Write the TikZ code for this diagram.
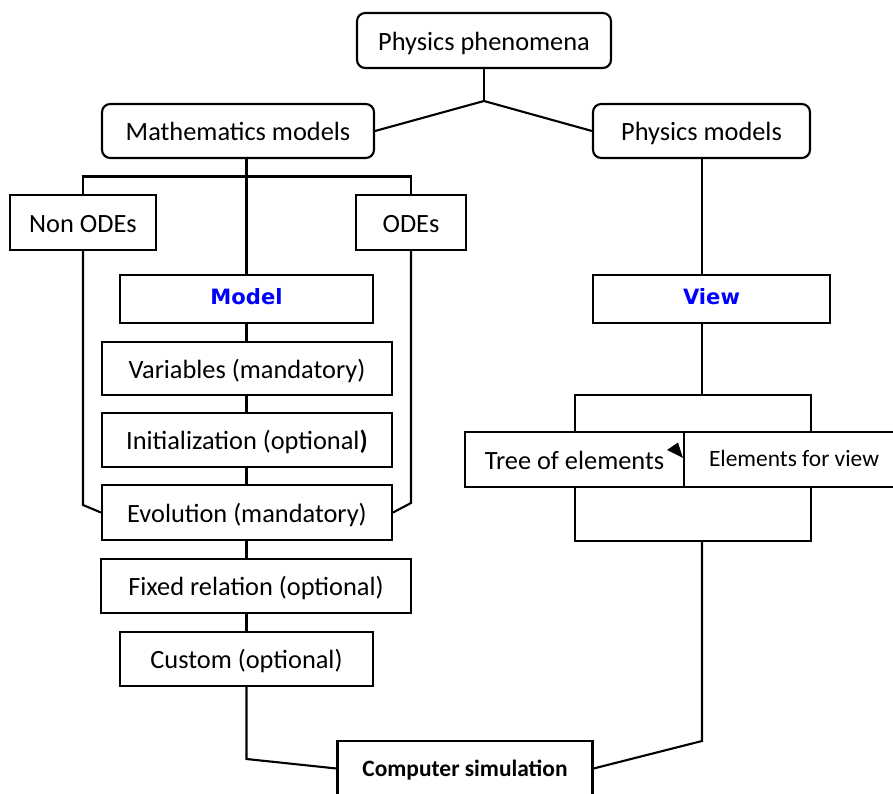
\documentclass[tikz,border=0pt]{standalone}
\usepackage{fontspec}
\setmainfont{Carlito}
\newfontfamily\boxhead{DejaVu Sans}
\usetikzlibrary{arrows.meta}

\begin{document}
\begin{tikzpicture}[x=0.03cm,y=-0.03cm,line width=1.8pt]

	%\draw[help lines,step=50] (0,0) grid (893,794);

	\tikzset{
		plain/.style={draw,inner sep=0pt,text height=16.5pt,text depth=0pt,font=\fontsize{22.5}{27}\selectfont},
		rplain/.style={plain,rounded corners=7pt},
		bw/.style={minimum width=#1*0.03cm},
		bh/.style={minimum height=#1*0.03cm},
		headtext/.style={text height=9pt,font=\boxhead\bfseries\fontsize{18}{22}\selectfont,text=blue}
	}

	\useasboundingbox (0,0) rectangle (893,794);

	% top of the tree

	\node[rplain,bw=254,bh=55] (phen) at (484,40.5) {Physics phenomena};
	\coordinate (fork) at (484,101);
	\node[rplain,bw=272,bh=54] (math) at (238,131) {Mathematics models};
	\node[rplain,bw=217,bh=54] (phys) at (701.5,131) {Physics models};

	\draw (phen.south) -- (fork);
	\draw (fork) -- (math.east);
	\draw (fork) -- (phys.west);

	% model side

	\node[plain,bw=146,bh=55] (nonode) at (83,222.5) {Non ODEs};
	\node[plain,bw=110,bh=55] (ode) at (411,222.5) {ODEs};

	\node[plain,bw=253,bh=48,headtext] (model) at (246.5,299) {Model};
	\node[plain,bw=290,bh=53] (vars) at (247,368.5) {Variables (mandatory)};
	\node[plain,bw=290,bh=54] (init) at (247,440) {Initialization (optional\textbf{)}};
	\node[plain,bw=290,bh=55] (evol) at (247,512.5) {Evolution (mandatory)};
	\node[plain,bw=310,bh=54] (fixed) at (256,586) {Fixed relation (optional)};
	\node[plain,bw=253,bh=54] (custom) at (246.5,659) {Custom (optional)};

	\coordinate (bar) at (0,176.5);
	\draw (model.north) -- (model.north |- math.south);
	\draw (nonode.north) -- (nonode.north |- bar) -- (ode.north |- bar) -- (ode.north);

	\draw (nonode.south) -- (nonode.south |- 0,505) -- (evol.west);
	\draw (ode.south) -- (ode.south |- 0,503) -- (evol.east);

	\foreach \a/\b in {model/vars,vars/init,init/evol,evol/fixed,fixed/custom} {
		\draw (\a.south -| model.south) -- (\b.north -| model.south);
	}

	% view side

	\node[plain,bw=237,bh=48,headtext] (view) at (711.5,299) {View};
	\node[plain,bw=219,bh=55] (tree) at (574.5,459.5) {Tree of elements};
	\node[plain,bw=220,bh=55,text height=12pt,font=\fontsize{20}{24}\selectfont] (elem) at (794,459.5) {Elements for view};

	\fill (667,450) -- (678,442.5) -- (683,458) -- cycle;

	\coordinate (vtop) at (702,395);
	\coordinate (vbot) at (702,541);
	\draw (phys.south -| vtop) -- (view.north -| vtop);
	\draw (view.south -| vtop) -- (vtop);
	\draw (tree.north -| 575,0) -- (575,395) -- (811,395) -- (elem.north -| 811,0);
	\draw (tree.south -| 575,0) -- (575,541) -- (811,541) -- (elem.south -| 811,0);

	% bottom

	\node[plain,bw=255,bh=55,text height=14.5pt,font=\bfseries\fontsize{20}{24}\selectfont] (sim) at (465,768.5) {Computer simulation};

	\draw (custom.south) -- (custom.south |- 0,759) -- (sim.west);
	\draw (vbot) -- (702,741) -- (sim.east);

\end{tikzpicture}
\end{document}
